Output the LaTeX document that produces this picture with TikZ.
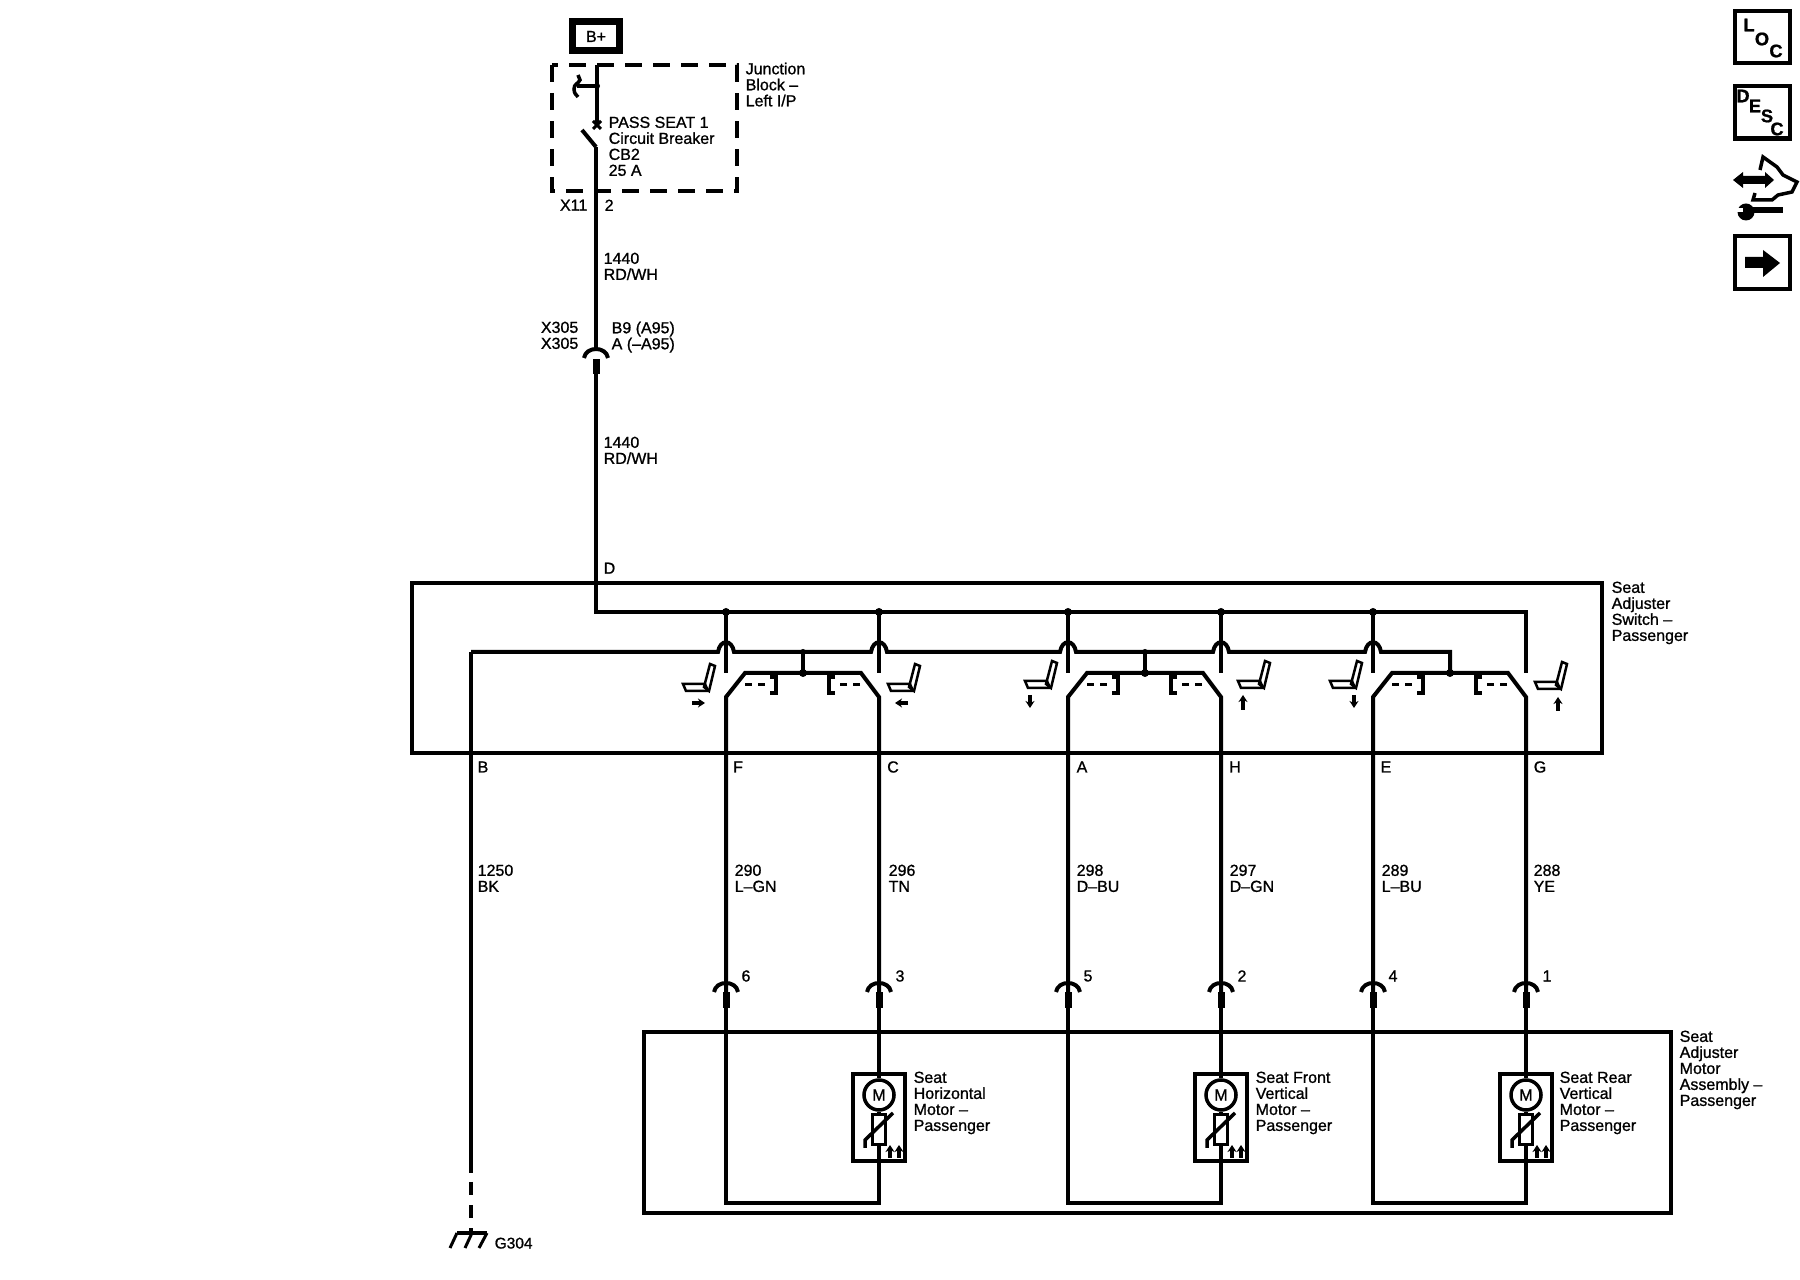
\documentclass[tikz,border=0pt]{standalone}
\usepackage{fontspec}
\setmainfont[FakeBold=1]{Liberation Sans}
\usetikzlibrary{calc,arrows.meta}
\tikzset{
	wire/.style={line width=0.04cm},
	boxline/.style={line width=0.04cm},
	wiretext/.style={font=\fontsize{4.55}{4.55}\selectfont,inner sep=0pt,align=left,anchor=north west},
	righttext/.style={wiretext,align=right,anchor=north east},
	pintext/.style={font=\fontsize{4.55}{4.55}\selectfont,inner sep=0pt},
	junction/.style={circle,fill=black,inner sep=0pt,minimum size=0.08cm},
	pinbody/.style={rectangle,fill=black,inner sep=0pt,minimum width=0.07cm,minimum height=0.15cm},
	motorcase/.style={rectangle,draw,line width=0.04cm,inner sep=0pt,minimum width=0.52cm,minimum height=0.87cm},
	motorhead/.style={circle,draw,line width=0.035cm,inner sep=0pt,minimum size=0.3cm,fill=white,font=\fontsize{4.55}{4.55}\selectfont},
	iconbox/.style={rectangle,draw,line width=0.04cm,inner sep=0pt,minimum width=0.55cm,minimum height=0.52cm},
	icontext/.style={font=\fontsize{5.2}{5.2}\selectfont\bfseries,inner sep=0pt},
	seatarrow/.style={-{Stealth[length=0.07cm,width=0.09cm]},line width=0.035cm},
	seatleft/.pic={
		\draw[line width=0.025cm] (-25,-7) -- (-3,-7) -- (0,0) -- (-22,0) -- cycle;
		\draw[line width=0.025cm] (2,-27) -- (7,-25) -- (1,0) -- (-4,-4) -- cycle;
	},
	femaleend/.pic={
		\draw[wire] (-12,9) .. controls (-10,-3) and (10,-3) .. (12,9);
	}
}
\begin{document}
\begin{tikzpicture}[x=0.01cm,y=-0.01cm]
	\useasboundingbox (0,0) rectangle (1800,1280);

	\node (batt) [rectangle,draw,line width=0.07cm,inner sep=0pt,minimum width=0.47cm,minimum height=0.29cm,font=\fontsize{4.55}{4.55}\selectfont] at (596,36.5) {B+};
	\draw[line width=0.04cm,dash pattern=on 0.17cm off 0.11cm] (552,65) rectangle (737,191);
	\node (junctext) [wiretext] at (745,62) {Junction\\Block --\\Left I/P};

	\coordinate (feedTop) at (597,65);
	\coordinate (breakerTop) at (597,125);
	\coordinate (breakerLow) at (596,147);
	\coordinate (breakerLever) at (582,130);
	\coordinate (fuseTap) at (577,86);
	\node (feedDot) [junction,minimum size=0.06cm] at (597,86) {};
	\draw[wire] (feedTop) -- (breakerTop);
	\draw[wire] (feedDot.center) -- (fuseTap);
	\draw[line width=0.035cm] (578,75) -- (580,80) .. controls (578,84) and (574,84) .. (574,89) .. controls (574,93) and (576,95) .. (578,97);
	\draw[line width=0.03cm] ($(breakerTop)+(-4,-4)$) -- ($(breakerTop)+(4,4)$);
	\draw[line width=0.03cm] ($(breakerTop)+(-4,4)$) -- ($(breakerTop)+(4,-4)$);
	\draw[wire] (breakerLever) -- (breakerLow);
	\node (breakertext) [wiretext] at (608,116) {PASS SEAT 1\\Circuit Breaker\\CB2\\25 A};
	\node (x11text) [righttext] at (588,199) {X11};
	\node (x11pin) [wiretext] at (604,199) {2};
	\node (wireNumA) [wiretext] at (603,252) {1440\\RD/WH};
	\node (x305text) [righttext] at (579,321) {X305\\X305};
	\node (x305pin) [wiretext] at (611,321) {B9 (A95)\\A (--A95)};
	\node (x305body) [pinbody] at (596,367) {};
	\pic at (596,349) {femaleend};
	\draw[wire] (breakerLow) -- (596,349);
	\node (wireNumB) [wiretext] at (603,436) {1440\\RD/WH};
	\node (ptD) [wiretext] at (603,562) {D};

	\node (switchbox) [rectangle,draw,line width=0.04cm,inner sep=0pt,minimum width=11.90cm,minimum height=1.70cm] at (1007,668) {};
	\node (switchtext) [wiretext] at (1611,581) {Seat\\Adjuster\\Switch --\\Passenger};

	\coordinate (busStart) at (596,612);
	\coordinate (busEnd) at (1526,612);
	\coordinate (gndStart) at (471,652);
	\coordinate (gndCorner) at (1450,652);
	\draw[wire] (x305body.center) -- (busStart) -- (busEnd) -- (1526,673);

	% ground line with its hops
	\foreach \gname/\gx in {F/726,C/879,A/1068,H/1221,E/1373}
	{
		\coordinate (hop\gname) at (\gx,652);
	}
	\draw[wire] (gndStart)
		-- ($(hopF)+(-8,0)$) .. controls +(2,-13) and +(-2,-13) .. ($(hopF)+(8,0)$)
		-- ($(hopC)+(-8,0)$) .. controls +(2,-13) and +(-2,-13) .. ($(hopC)+(8,0)$)
		-- ($(hopA)+(-8,0)$) .. controls +(2,-13) and +(-2,-13) .. ($(hopA)+(8,0)$)
		-- ($(hopH)+(-8,0)$) .. controls +(2,-13) and +(-2,-13) .. ($(hopH)+(8,0)$)
		-- ($(hopE)+(-8,0)$) .. controls +(2,-13) and +(-2,-13) .. ($(hopE)+(8,0)$)
		-- (gndCorner) -- (1450,673);

	% one pair of contacts and one motor per group
	\foreach \lname/\rname/\xl/\xr/\tapx/\numl/\numr in {F/C/726/879/803/6/3,A/H/1068/1221/1145/5/2,E/G/1373/1526/1450/4/1}
	{
		\node (busdot\lname) [junction] at (\xl,612) {};
		\draw[wire] (busdot\lname.center) -- (\xl,673);
		\ifnum\xr=1526\relax\else
			\node (busdot\rname) [junction] at (\xr,612) {};
			\draw[wire] (busdot\rname.center) -- (\xr,673);
		\fi
		\draw[wire] (\xl,1000) -- (\xl,697) -- (\xl+19,673) -- (\xr-18,673) -- (\xr,697) -- (\xr,1000);
		\node (tapdot\lname) [junction] at (\tapx,673) {};
		\ifnum\tapx=1450\relax\else
			\node (tapup\lname) [junction,minimum size=0.06cm] at (\tapx,652) {};
			\draw[wire] (tapup\lname.center) -- (tapdot\lname.center);
		\fi
		\draw[line width=0.03cm,dash pattern=on 0.07cm off 0.06cm] (\xl+19,685) -- (\xl+41,685);
		\draw[line width=0.03cm,dash pattern=on 0.07cm off 0.06cm] (\xr-19,685) -- (\xr-40,685);
		\draw[line width=0.04cm] (\xl+44,677) -- (\xl+50,677) -- (\xl+50,693) -- (\xl+44,693);
		\draw[line width=0.04cm] (\xr-44,677) -- (\xr-50,677) -- (\xr-50,693) -- (\xr-44,693);

		\pic at (\xl,983) {femaleend};
		\pic at (\xr,983) {femaleend};
		\node (pin\lname) [pinbody] at (\xl,1000) {};
		\node (pin\rname) [pinbody] at (\xr,1000) {};
		\node (num\lname) [pintext] at (\xl+20,976) {\numl};
		\node (num\rname) [pintext] at (\xr+21,976) {\numr};

		\node (case\rname) [motorcase] at (\xr,1117.5) {};
		\node (motor\rname) [motorhead] at (\xr,1095) {M};
		\node (ptc\rname) [rectangle,draw,line width=0.03cm,inner sep=0pt,minimum width=0.13cm,minimum height=0.29cm] at (\xr,1129.5) {};
		\coordinate (join\rname) at (\xr,1203);
		\coordinate (join\lname) at (\xl,1203);
		\draw[wire] (pin\rname) -- (motor\rname);
		\draw[wire] (motor\rname) -- (ptc\rname);
		\draw[wire] (ptc\rname) -- (join\rname) -- (join\lname) -- (pin\lname);
		\draw[line width=0.035cm] (\xr-14,1148) -- (\xr-14,1140) -- (\xr+14,1113);
		\draw[seatarrow] (\xr+11,1158) -- (\xr+11,1145);
		\draw[seatarrow] (\xr+20,1158) -- (\xr+20,1145);
	}

	\foreach \sname/\sx/\sy in {F/708/691,C/913/691,A/1050/688,H/1263/688,E/1355/688,G/1560/689}
	{
		\pic at (\sx,\sy) {seatleft};
	}
	\draw[seatarrow] (692,703) -- (705,703);
	\draw[seatarrow] (908,703) -- (895,703);
	\draw[seatarrow] (1030,695) -- (1030,708);
	\draw[seatarrow] (1243,710) -- (1243,695);
	\draw[seatarrow] (1354,695) -- (1354,708);
	\draw[seatarrow] (1558,711) -- (1558,697);

	\foreach \pname/\px/\ptext in {B/483/B,F/738/F,C/893/C,A/1082/A,H/1235/H,E/1386/E,G/1540/G}
	{
		\node (sw\pname) [pintext] at (\px,767) {\ptext};
	}
	\foreach \wname/\wx/\wtext in {B/477/{1250\\BK},F/734/{290\\L--GN},C/888/{296\\TN},A/1076/{298\\D--BU},H/1229/{297\\D--GN},E/1381/{289\\L--BU},G/1533/{288\\YE}}
	{
		\node (wire\wname) [wiretext] at (\wx,864) {\wtext};
	}

	\node (assembly) [rectangle,draw,line width=0.04cm,inner sep=0pt,minimum width=10.27cm,minimum height=1.81cm] at (1157.5,1122.5) {};
	\node (assemblytext) [wiretext] at (1679,1030) {Seat\\Adjuster\\Motor\\Assembly --\\Passenger};
	\node (motortextC) [wiretext] at (913,1071) {Seat\\Horizontal\\Motor --\\Passenger};
	\node (motortextH) [wiretext] at (1255,1071) {Seat Front\\Vertical\\Motor --\\Passenger};
	\node (motortextG) [wiretext] at (1559,1071) {Seat Rear\\Vertical\\Motor --\\Passenger};

	% ground
	\coordinate (gndStem) at (471,1173);
	\coordinate (gndDash) at (471,1182);
	\coordinate (gndBar) at (471,1233);
	\draw[wire] (gndStart) -- (gndStem);
	\draw[wire,dash pattern=on 0.13cm off 0.10cm] (gndDash) -- (gndBar);
	\draw[line width=0.03cm] (457,1233) -- (487,1233);
	\draw[line width=0.03cm] (457,1233) -- (450,1248);
	\draw[line width=0.03cm] (472,1233) -- (465,1248);
	\draw[line width=0.03cm] (487,1233) -- (479,1248);
	\node (gndtext) [wiretext,font=\fontsize{4.4}{4.4}\selectfont] at (494,1237) {G304};

	% icons
	\node (locbox) [iconbox] at (1762,37.5) {};
	\node (locL) [icontext] at (1749,25) {L};
	\node (locO) [icontext] at (1762,39) {O};
	\node (locC) [icontext] at (1776,51) {C};
	\node (descbox) [iconbox] at (1762,112.5) {};
	\node (descD) [icontext] at (1743,96) {D};
	\node (descE) [icontext] at (1755,106) {E};
	\node (descS) [icontext] at (1767,116) {S};
	\node (descC) [icontext] at (1777,129) {C};
	\fill (1733,180) -- (1743,172) -- (1743,176) -- (1765,176) -- (1765,172) -- (1774,180) -- (1765,188) -- (1765,184) -- (1743,184) -- (1743,188) -- cycle;
	\draw[line width=0.035cm] (1760,170) -- (1763,157) -- (1777,167) -- (1783,175) -- (1797,182) -- (1792,192) -- (1778,195) -- (1772,200) -- (1753,200) -- (1755,193);
	\draw[line width=0.055cm] (1745,210) -- (1783,210);
	\fill (1746,212) circle (0.085cm);
	\fill[white] (1737,208) rectangle (1743,212);
	\node (nextbox) [iconbox] at (1762,262.5) {};
	\fill (1745,257) -- (1763,257) -- (1763,250) -- (1780,263) -- (1763,277) -- (1763,268) -- (1745,268) -- cycle;
\end{tikzpicture}
\end{document}
